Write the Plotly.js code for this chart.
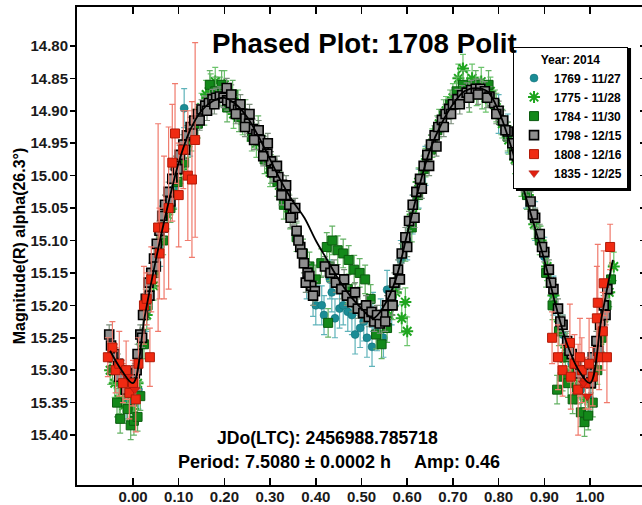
<!DOCTYPE html>
<html>
<head>
<meta charset="utf-8">
<script src="https://cdn.plot.ly/plotly-3.0.1.min.js"></script>
<style>
html,body{margin:0;padding:0;overflow:hidden;background:#fff;}
#plot{width:649px;height:505px;}
</style>
</head>
<body>
<div id="plot"></div>
<script>
// ---------- data ----------
const seriesNames = ["1769 - 11/27", "1775 - 11/28", "1784 - 11/30", "1798 - 12/15", "1808 - 12/16", "1835 - 12/25"];

const phase1769 = [-0.030,-0.015,0.000,0.012,0.030,0.060,0.090,0.112,0.125,0.380,0.394,0.400,0.413,0.418,0.431,0.435,0.442,0.452,0.460,0.470,0.479,0.486,0.497,0.505,0.512,0.523,0.525,0.534,0.542,0.548,0.556,0.566,0.576,0.586,0.600,0.612,0.625,0.640,0.800,0.820,0.840,0.860,0.880,0.900,0.920,0.940,0.960,0.980,1.000];
const mag1769   = [15.320,15.345,15.350,15.330,15.210,15.110,15.020,14.896,14.940,15.160,15.187,15.200,15.200,15.215,15.160,15.180,15.220,15.205,15.200,15.210,15.215,15.245,15.235,15.225,15.250,15.264,15.210,15.240,15.220,15.250,15.176,15.200,15.170,15.130,15.100,15.060,15.020,14.985,14.905,14.935,14.975,15.020,15.070,15.125,15.185,15.245,15.290,15.330,15.345];

const phase1775 = [-0.050,-0.040,-0.030,-0.020,-0.010,0.000,0.010,0.020,0.030,0.045,0.060,0.075,0.090,0.105,0.120,0.135,0.150,0.160,0.170,0.180,0.190,0.200,0.210,0.220,0.230,0.240,0.255,0.270,0.285,0.300,0.320,0.340,0.560,0.575,0.588,0.596,0.600,0.612,0.625,0.640,0.655,0.670,0.685,0.700,0.712,0.722,0.732,0.742,0.752,0.762,0.772,0.782,0.795,0.808,0.822,0.836,0.850,0.864,0.878,0.892,0.906,0.920,0.934,0.948,0.962,0.976,0.990,1.004,1.018,1.030,1.042,1.052];
const mag1775   = [15.300,15.320,15.345,15.355,15.340,15.360,15.320,15.260,15.215,15.170,15.100,15.060,15.030,14.990,14.950,14.920,14.895,14.875,14.865,14.855,14.870,14.860,14.880,14.905,14.890,14.915,14.925,14.950,14.960,14.995,15.015,15.050,15.215,15.180,15.220,15.195,15.240,15.060,15.010,14.980,14.950,14.920,14.900,14.880,14.850,14.835,14.860,14.850,14.870,14.855,14.880,14.870,14.895,14.920,14.945,14.975,15.010,15.030,15.075,15.100,15.140,15.185,15.225,15.265,15.300,15.320,15.345,15.300,15.260,15.220,15.180,15.140];

const phase1784 = [-0.045,-0.035,-0.028,-0.020,-0.012,-0.005,0.002,0.010,0.016,0.024,0.032,0.048,0.066,0.082,0.098,0.112,0.128,0.142,0.156,0.168,0.180,0.194,0.206,0.218,0.232,0.246,0.260,0.274,0.288,0.302,0.316,0.330,0.344,0.358,0.372,0.386,0.400,0.412,0.424,0.427,0.430,0.436,0.448,0.460,0.470,0.472,0.484,0.496,0.508,0.520,0.532,0.544,0.556,0.568,0.582,0.596,0.610,0.624,0.638,0.652,0.666,0.680,0.694,0.708,0.722,0.736,0.750,0.764,0.778,0.792,0.806,0.820,0.834,0.848,0.862,0.876,0.890,0.904,0.918,0.928,0.932,0.940,0.946,0.952,0.962,0.972,0.980,0.988,0.996,1.006,1.016,1.026,1.036,1.046];
const mag1784   = [15.300,15.350,15.375,15.330,15.360,15.385,15.378,15.372,15.340,15.260,15.200,15.150,15.100,15.050,15.010,14.980,14.940,14.920,14.900,14.860,14.870,14.860,14.895,14.875,14.910,14.905,14.940,14.930,14.975,14.990,15.010,15.045,15.060,15.095,15.120,15.140,15.160,15.135,15.110,15.227,15.140,15.100,15.115,15.120,15.175,15.130,15.145,15.150,15.160,15.190,15.245,15.260,15.235,15.200,15.160,15.110,15.080,15.030,14.990,14.960,14.930,14.905,14.890,14.870,14.860,14.880,14.860,14.875,14.860,14.890,14.915,14.940,14.960,15.000,15.030,15.060,15.100,15.150,15.200,15.330,15.240,15.310,15.280,15.320,15.345,15.330,15.365,15.380,15.370,15.350,15.300,15.250,15.200,15.160];

const phase1798 = [-0.052,-0.048,-0.040,-0.033,-0.025,-0.018,-0.010,-0.004,0.004,0.010,0.016,0.022,0.028,0.034,0.040,0.046,0.052,0.058,0.064,0.070,0.078,0.086,0.094,0.102,0.110,0.118,0.126,0.134,0.142,0.150,0.158,0.166,0.174,0.182,0.190,0.198,0.206,0.214,0.222,0.230,0.238,0.246,0.254,0.262,0.270,0.278,0.286,0.294,0.302,0.310,0.318,0.326,0.334,0.342,0.350,0.358,0.366,0.374,0.382,0.390,0.398,0.420,0.432,0.444,0.456,0.468,0.480,0.492,0.504,0.516,0.528,0.540,0.548,0.556,0.564,0.572,0.580,0.588,0.596,0.604,0.612,0.620,0.628,0.636,0.644,0.652,0.660,0.668,0.676,0.684,0.692,0.700,0.710,0.720,0.730,0.740,0.750,0.760,0.770,0.780,0.790,0.800,0.810,0.820,0.830,0.840,0.850,0.860,0.870,0.880,0.890,0.900,0.910,0.920,0.930,0.940,0.950,0.960,0.970,0.980,0.990,0.998,1.006,1.014,1.022,1.030,1.038,
  0.205,0.215,0.225,0.235,0.245,0.255,0.265,0.275,0.285,0.295,0.305,0.315,0.325,0.335,0.345,0.355,0.362,0.370,0.378,0.386,0.394,0.440,0.462,0.486,0.510,0.522,0.534,0.552,0.568,0.584,0.600,0.616,0.632,0.648,0.664,0.680,0.696,0.715,0.735,0.755,0.775,0.795,0.815,0.835,0.855,0.875,0.895,0.915,0.935,0.955,0.975,-0.045,-0.030,-0.015,0.008,0.020,0.036,0.050,0.066,0.082,0.098,0.114,0.130,0.146,0.162,0.178,1.002,1.018,1.034];
const mag1798   = [15.245,15.262,15.275,15.290,15.300,15.312,15.322,15.318,15.305,15.275,15.245,15.215,15.190,15.165,15.150,15.128,15.105,15.085,15.062,15.045,15.025,15.005,14.985,14.968,14.952,14.938,14.925,14.915,14.905,14.898,14.892,14.888,14.882,14.880,14.878,14.880,14.884,14.888,14.893,14.898,14.905,14.912,14.920,14.928,14.936,14.945,14.955,14.966,14.978,14.990,15.002,15.014,15.030,15.045,15.060,15.085,15.110,15.135,15.150,15.170,15.178,15.140,15.150,15.165,15.175,15.185,15.195,15.205,15.212,15.218,15.225,15.228,15.215,15.200,15.185,15.165,15.145,15.120,15.095,15.070,15.045,15.025,15.005,14.985,14.968,14.952,14.938,14.925,14.914,14.905,14.897,14.890,14.882,14.876,14.872,14.868,14.866,14.866,14.870,14.878,14.888,14.900,14.915,14.932,14.950,14.970,14.992,15.015,15.040,15.065,15.090,15.118,15.145,15.175,15.205,15.230,15.255,15.275,15.290,15.300,15.310,15.305,15.280,15.255,15.230,15.200,15.175,
  14.865,14.875,14.905,14.890,14.925,14.905,14.945,14.930,14.970,14.950,14.995,14.985,15.030,15.015,15.065,15.050,15.100,15.120,15.165,15.155,15.185,15.145,15.160,15.180,15.200,15.210,15.215,15.225,15.200,15.160,15.110,15.065,15.020,14.985,14.955,14.925,14.905,14.890,14.880,14.875,14.880,14.905,14.930,14.968,15.010,15.060,15.110,15.165,15.225,15.270,15.305,15.280,15.310,15.330,15.300,15.250,15.185,15.140,15.080,15.040,14.990,14.960,14.935,14.915,14.900,14.890,15.320,15.270,15.215];

const phase1808 = [-0.055,-0.045,-0.038,-0.030,-0.022,-0.015,-0.008,0.000,0.006,0.012,0.037,0.024,0.030,0.040,0.055,0.058,0.068,0.078,0.086,0.092,0.100,0.110,0.120,0.129,0.136,0.917,0.930,0.940,0.956,0.958,0.966,0.974,0.978,0.982,0.990,0.998,1.006,1.015,1.017,1.020,1.028,1.030,1.037,1.044];
const mag1808   = [15.280,15.265,15.300,15.290,15.320,15.300,15.335,15.320,15.345,15.290,15.280,15.200,15.190,15.160,15.080,15.120,15.080,15.050,14.980,14.935,15.030,14.960,15.000,15.006,14.945,15.250,15.280,15.300,15.258,15.310,15.290,15.330,15.280,15.300,15.320,15.290,15.310,15.220,15.196,15.280,15.240,15.166,15.280,15.110];
const err1808   = [0.030,0.040,0.035,0.050,0.030,0.045,0.040,0.035,0.050,0.040,0.045,0.060,0.040,0.050,0.160,0.070,0.110,0.125,0.090,0.077,0.080,0.060,0.100,0.120,0.150,0.040,0.050,0.040,0.060,0.050,0.045,0.070,0.060,0.050,0.040,0.070,0.045,0.080,0.090,0.050,0.060,0.050,0.070,0.035];

const phase1835 = [-0.012,0.004,0.986,0.994];
const mag1835   = [15.310,15.330,15.320,15.340];

const fitPhase = [-0.05,-0.025,0.0,0.025,0.05,0.075,0.10,0.125,0.15,0.175,0.20,0.225,0.25,0.275,0.30,0.325,0.35,0.375,0.40,0.425,0.45,0.475,0.50,0.525,0.55,0.575,0.60,0.625,0.65,0.675,0.70,0.725,0.75,0.775,0.80,0.825,0.85,0.875,0.90,0.925,0.95,0.975,1.00,1.025,1.05];
const fitMag   = [15.27,15.30,15.32,15.22,15.13,15.05,14.98,14.93,14.90,14.885,14.88,14.89,14.91,14.94,14.975,15.01,15.04,15.065,15.10,15.13,15.16,15.185,15.205,15.22,15.20,15.16,15.09,15.02,14.96,14.92,14.89,14.87,14.865,14.87,14.90,14.95,15.01,15.07,15.13,15.20,15.26,15.30,15.32,15.22,15.13];

const xTickVals = [0,0.1,0.2,0.3,0.4,0.5,0.6,0.7,0.8,0.9,1.0];
const xTickText = ["0.00","0.10","0.20","0.30","0.40","0.50","0.60","0.70","0.80","0.90","1.00"];
const yTickVals = [14.80,14.85,14.90,14.95,15.00,15.05,15.10,15.15,15.20,15.25,15.30,15.35,15.40];
const yTickText = ["14.80","14.85","14.90","14.95","15.00","15.05","15.10","15.15","15.20","15.25","15.30","15.35","15.40"];

const chartTitle = "Phased Plot: 1708 Polit";
const yTitle = "Magnitude(R) alpha(26.3°)";
const legendTitle = "Year: 2014";
const jdText = "JDo(LTC): 2456988.785718";
const periodText = "Period: 7.5080 ± 0.0002 h";
const ampText = "Amp: 0.46";

// ---------- chart ----------
const F = "Liberation Sans, Arial, sans-serif";
function ebar(color, val, arr) {
  const e = {type: arr ? 'data' : 'constant', visible: true, color: color, thickness: 1.2, width: 3};
  if (arr) e.array = arr; else e.value = val;
  return e;
}
const traces = [
  {x: phase1769, y: mag1769, name: seriesNames[0], mode: 'markers', type: 'scatter',
   marker: {symbol: 'circle', size: 8, color: '#1b8c95', line: {color: '#0f6a72', width: 0.5}},
   error_y: ebar('#5fb3ba', 0.03)},
  {x: phase1775, y: mag1775, name: seriesNames[1], mode: 'markers', type: 'scatter',
   marker: {symbol: 'asterisk-open', size: 10, color: '#1fa51f', line: {color: '#1fa51f', width: 2}},
   error_y: ebar('#6cc46c', 0.022)},
  {x: phase1784, y: mag1784, name: seriesNames[2], mode: 'markers', type: 'scatter',
   marker: {symbol: 'square', size: 9, color: '#13891a', line: {color: '#0b5c0f', width: 1}},
   error_y: ebar('#64b264', 0.022)},
  {x: phase1798, y: mag1798, name: seriesNames[3], mode: 'markers', type: 'scatter',
   marker: {symbol: 'square', size: 9, color: '#8e8e8e', line: {color: '#000000', width: 1.6}},
   error_y: ebar('#7d8f7d', 0.015)},
  {x: phase1808, y: mag1808, name: seriesNames[4], mode: 'markers', type: 'scatter',
   marker: {symbol: 'square', size: 9, color: '#f02a12', line: {color: '#b01a08', width: 1}},
   error_y: ebar('#f07a6c', 0, err1808)},
  {x: phase1835, y: mag1835, name: seriesNames[5], mode: 'markers', type: 'scatter',
   marker: {symbol: 'triangle-down', size: 9, color: '#e02010', line: {color: '#a01008', width: 0.5}}},
  {x: fitPhase, y: fitMag, mode: 'lines', type: 'scatter', showlegend: false, hoverinfo: 'skip',
   line: {color: '#000', width: 1.8, shape: 'spline', smoothing: 1}}
];

const yRange = [15.477, 14.740];
const layout = {
  width: 649, height: 505,
  margin: {l: 77, r: 3, t: 7, b: 20},
  paper_bgcolor: '#fff', plot_bgcolor: '#fff',
  font: {family: F, color: '#1a1a1a', weight: 'bold'},
  showlegend: true,
  xaxis: {range: [-0.1225, 1.1225], tickmode: 'array', tickvals: xTickVals, ticktext: xTickText,
          ticks: 'inside', ticklen: 7, tickwidth: 1.5, tickcolor: '#000', mirror: 'ticks',
          ticklabelstandoff: -3,
          showline: true, linecolor: '#000', linewidth: 2, showgrid: false, zeroline: false,
          tickfont: {family: F, size: 15, weight: 'bold', color: '#1a1a1a'}},
  yaxis: {range: yRange, tickmode: 'array', tickvals: yTickVals, ticktext: yTickText,
          ticks: 'outside', ticklen: 5, tickwidth: 1.5, tickcolor: '#000',
          ticklabelstandoff: -1,
          showline: true, linecolor: '#000', linewidth: 2, showgrid: false, zeroline: false,
          tickfont: {family: F, size: 15, weight: 'bold', color: '#1a1a1a'},
          title: {text: yTitle, font: {family: F, size: 16, weight: 'bold', color: '#000'}, standoff: 1}},
  yaxis2: {range: yRange, overlaying: 'y', side: 'right', tickmode: 'array', tickvals: yTickVals,
           showticklabels: false, ticks: 'inside', ticklen: 6, tickwidth: 1.5, tickcolor: '#000',
           showline: true, linecolor: '#000', linewidth: 2, showgrid: false, zeroline: false},
  legend: {x: 0.9684, xanchor: 'right', y: 0.9163, yanchor: 'top',
           bgcolor: '#fff', bordercolor: '#000', borderwidth: 1,
           font: {family: F, size: 12, weight: 'bold', color: '#000'},
           title: {text: legendTitle, side: 'top center', font: {family: F, size: 12, weight: 'bold', color: '#000'}}},
  shapes: [
    {type: 'rect', xref: 'paper', yref: 'paper', x0: 0.7715, x1: 0.9737, y0: 0.6151, y1: 0.9142,
     fillcolor: '#000', line: {width: 0}, layer: 'above'}
  ],
  annotations: [
    {text: chartTitle, xref: 'paper', yref: 'paper', x: 0.506, y: 0.9226, xanchor: 'center', yanchor: 'middle', showarrow: false,
     font: {family: F, size: 27.7, weight: 'bold', color: '#000'}},
    {text: jdText, xref: 'paper', yref: 'paper', x: 0.441, y: 0.0983, xanchor: 'center', yanchor: 'middle', showarrow: false,
     font: {family: F, size: 17.6, weight: 'bold', color: '#000'}},
    {text: periodText, xref: 'paper', yref: 'paper', x: 0.3647, y: 0.0481, xanchor: 'center', yanchor: 'middle', showarrow: false,
     font: {family: F, size: 18, weight: 'bold', color: '#000'}},
    {text: ampText, xref: 'paper', yref: 'paper', x: 0.668, y: 0.0481, xanchor: 'center', yanchor: 'middle', showarrow: false,
     font: {family: F, size: 18, weight: 'bold', color: '#000'}}
  ]
};
traces[6].yaxis = 'y2';
Plotly.newPlot('plot', traces, layout, {staticPlot: true, displayModeBar: false});
</script>
</body>
</html>
